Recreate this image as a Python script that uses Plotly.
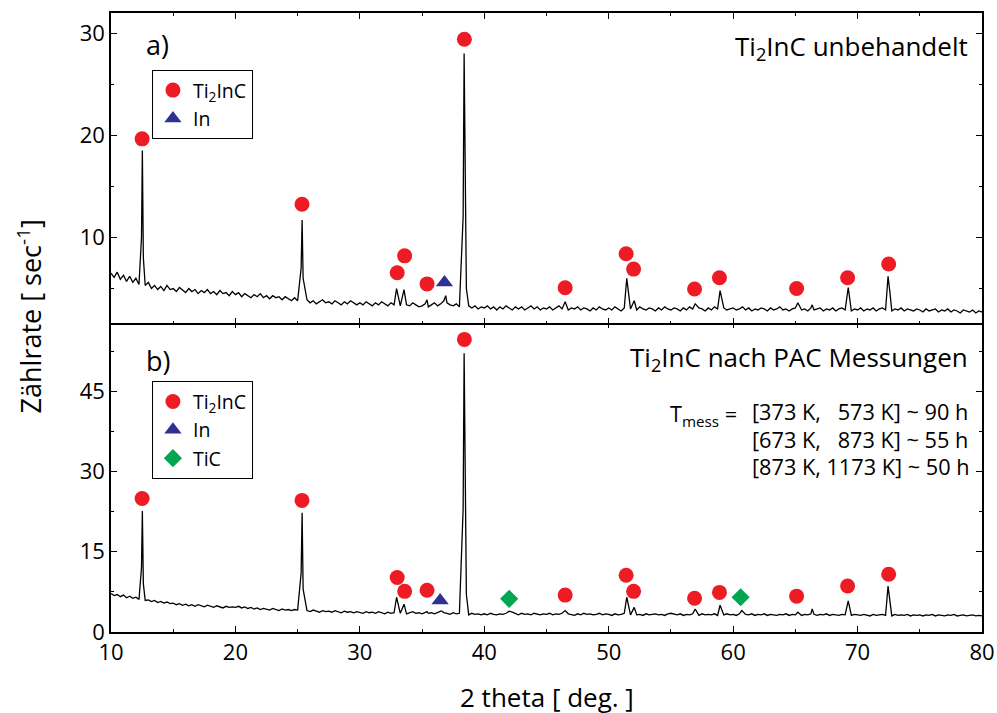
import numpy as np
import plotly.graph_objects as go

# ---------------- data ----------------
# background of the measured patterns, sampled every 0.25 deg from 10 to 80
two_theta_grid = np.arange(10.0, 80.001, 0.25)

bg_a = [
    6.5, 6.1, 6.6, 5.9, 6.3, 5.7, 6.2, 5.6, 6.0, 5.4, 5.9, 5.3, 5.6, 5.0, 5.3, 4.9, 5.2, 4.8, 5.3, 4.9,
    5.0, 4.7, 5.1, 4.8, 4.6, 5.0, 4.7, 4.9, 4.5, 4.8, 4.6, 4.9, 4.5, 4.7, 4.4, 4.8, 4.5, 4.6, 4.3, 4.7,
    4.4, 4.6, 4.2, 4.5, 4.3, 4.1, 4.4, 4.2, 4.5, 4.1, 4.3, 4.0, 4.3, 4.1, 4.2, 3.9, 4.2, 4.0, 3.8, 4.1,
    3.8, 3.9, 3.7, 3.9, 3.6, 3.8, 3.5, 3.7, 3.9, 3.6, 3.7, 3.5, 3.8, 3.6, 3.4, 3.7, 3.5, 3.8, 3.6, 3.4,
    3.6, 3.4, 3.7, 3.5, 3.3, 3.6, 3.4, 3.7, 3.5, 3.3, 3.6, 3.4, 3.5, 3.3, 3.6, 3.4, 3.3, 3.6, 3.4, 3.2,
    3.3, 3.5, 3.2, 3.4, 3.6, 3.3, 3.5, 3.8, 3.6, 3.4, 3.3, 3.5, 3.2, 3.4, 3.6, 3.3, 3.1, 3.3, 3.0, 3.2,
    3.1, 3.3, 3.0, 3.2, 2.9, 3.2, 3.0, 3.3, 3.1, 2.9, 3.2, 3.0, 3.2, 2.9, 3.1, 3.3, 3.0, 3.2, 2.9, 3.1,
    3.0, 3.2, 2.9, 3.1, 3.3, 3.0, 3.2, 2.9, 3.1, 3.0, 3.2, 2.9, 3.1, 3.0, 2.8, 3.1, 2.9, 3.2, 3.0, 2.9,
    3.1, 2.9, 3.2, 3.0, 2.8, 3.1, 3.2, 3.0, 3.1, 2.9, 3.2, 3.0, 2.9, 3.1, 3.0, 2.8, 3.1, 2.9, 3.2, 3.0,
    2.9, 3.1, 3.0, 2.8, 3.1, 2.9, 3.2, 3.0, 2.9, 3.1, 3.0, 2.8, 3.1, 2.9, 3.2, 3.0, 2.9, 3.1, 2.9, 3.0,
    3.1, 2.9, 3.0, 3.2, 2.9, 3.1, 2.8, 3.0, 2.9, 3.1, 3.0, 2.8, 3.1, 2.9, 3.0, 3.2, 2.9, 3.0, 2.8, 3.0,
    3.1, 3.2, 2.9, 3.0, 2.8, 3.1, 2.9, 3.0, 3.1, 2.8, 3.0, 2.9, 3.1, 2.8, 3.0, 3.1, 2.9, 3.0, 2.8, 3.0,
    2.9, 3.1, 2.8, 3.0, 2.9, 3.1, 2.8, 3.0, 3.1, 2.9, 3.0, 2.8, 3.0, 2.9, 3.1, 2.8, 3.0, 2.9, 2.8, 3.0,
    2.9, 2.7, 3.0, 2.8, 2.9, 3.0, 2.7, 2.9, 2.8, 3.0, 2.7, 2.9, 2.8, 2.6, 2.9, 2.8, 2.7, 2.9, 2.6, 2.8,
    2.7,
]

bg_b = [
    7.2, 6.8, 7.0, 6.6, 6.9, 6.4, 6.7, 6.3, 6.5, 6.1, 6.4, 5.9, 6.0, 5.7, 5.9, 5.5, 5.7, 5.4, 5.6, 5.3,
    5.4, 5.1, 5.3, 5.0, 5.2, 4.9, 5.1, 4.8, 5.1, 4.9, 4.7, 5.0, 4.8, 4.6, 4.9, 4.7, 4.5, 4.8, 4.6, 4.7,
    4.6, 4.8, 4.5, 4.7, 4.4, 4.6, 4.3, 4.5, 4.2, 4.4, 4.3, 4.1, 4.4, 4.2, 4.0, 4.3, 4.1, 4.2, 4.0, 4.2,
    4.1, 3.9, 4.2, 4.0, 3.8, 4.1, 3.9, 3.7, 4.0, 3.8, 3.9, 3.7, 4.0, 3.8, 3.6, 3.9, 3.7, 3.8, 3.6, 3.8,
    3.7, 3.5, 3.8, 3.6, 3.7, 3.5, 3.8, 3.6, 3.4, 3.7, 3.5, 3.6, 3.8, 3.5, 3.7, 3.4, 3.6, 3.8, 3.5, 3.6,
    3.4, 3.7, 3.5, 3.6, 3.4, 3.7, 3.9, 3.6, 3.5, 3.3, 3.6, 3.4, 3.5, 3.6, 3.4, 3.2, 3.5, 3.3, 3.4, 3.2,
    3.4, 3.2, 3.5, 3.3, 3.2, 3.4, 3.3, 3.5, 3.8, 3.7, 3.4, 3.2, 3.5, 3.3, 3.4, 3.2, 3.5, 3.3, 3.2, 3.4,
    3.3, 3.5, 3.2, 3.4, 3.3, 3.5, 3.2, 3.4, 3.3, 3.1, 3.4, 3.2, 3.5, 3.3, 3.4, 3.2, 3.3, 3.5, 3.2, 3.4,
    3.3, 3.1, 3.4, 3.2, 3.3, 3.5, 3.3, 3.2, 3.4, 3.2, 3.3, 3.1, 3.4, 3.2, 3.3, 3.4, 3.2, 3.3, 3.1, 3.4,
    3.5, 3.3, 3.2, 3.4, 3.1, 3.3, 3.2, 3.4, 3.3, 3.1, 3.4, 3.2, 3.3, 3.2, 3.4, 3.1, 3.3, 3.2, 3.4, 3.2,
    3.3, 3.1, 3.4, 3.6, 3.3, 3.2, 3.4, 3.1, 3.3, 3.2, 3.4, 3.1, 3.3, 3.2, 3.1, 3.3, 3.2, 3.4, 3.1, 3.3,
    3.2, 3.4, 3.1, 3.3, 3.2, 3.4, 3.3, 3.1, 3.3, 3.2, 3.4, 3.1, 3.3, 3.2, 3.1, 3.3, 3.2, 3.4, 3.1, 3.3,
    3.2, 3.1, 3.3, 3.2, 3.0, 3.3, 3.1, 3.2, 3.3, 3.1, 3.2, 3.0, 3.3, 3.1, 3.2, 3.1, 3.3, 3.0, 3.2, 3.1,
    3.2, 3.0, 3.2, 3.1, 3.3, 3.0, 3.2, 3.1, 3.0, 3.2, 3.1, 3.3, 3.0, 3.1, 3.2, 3.0, 3.1, 3.2, 3.0, 3.1,
    3.0,
]

# reflection points (position, intensity)
peak_a_x = [12.45, 12.52, 12.60, 25.28, 25.36, 25.44, 32.95, 33.55, 35.40, 36.90,
            38.30, 38.38, 38.47, 38.56, 46.50, 51.45, 52.05, 56.95, 58.95, 65.20,
            66.35, 69.25, 72.45, 72.62]
peak_a_y = [10.0, 18.5, 8.0, 7.0, 11.7, 6.0, 5.0, 4.9, 3.9, 4.3,
            12.0, 28.0, 14.0, 5.0, 3.7, 6.0, 3.8, 3.5, 4.8, 3.6,
            3.4, 5.1, 6.2, 4.4]

peak_b_x = [12.45, 12.52, 12.60, 25.28, 25.36, 25.44, 32.95, 33.55, 35.40, 36.60,
            38.30, 38.38, 38.47, 38.56, 42.00, 46.50, 51.45, 52.05, 56.95, 58.95,
            60.70, 65.20, 66.35, 69.25, 72.45, 72.62]
peak_b_y = [12.0, 22.6, 9.0, 11.0, 22.3, 8.0, 6.5, 5.2, 3.8, 3.9,
            23.0, 52.1, 25.0, 7.0, 3.9, 4.0, 6.5, 4.6, 4.3, 5.0,
            4.0, 3.7, 4.3, 5.8, 8.6, 5.4]

# phase markers, panel a
a_ti2inc_x = [12.5, 25.35, 33.0, 33.6, 35.4, 38.4, 46.5, 51.4, 52.0, 56.9, 58.9, 65.1, 69.2, 72.5]
a_ti2inc_y = [19.65, 13.25, 6.55, 8.2, 5.45, 29.4, 5.07, 8.4, 6.9, 4.95, 6.06, 5.0, 6.06, 7.4]
a_in_x = [36.8]
a_in_y = [5.6]

# phase markers, panel b
b_ti2inc_x = [12.5, 25.35, 33.0, 33.6, 35.4, 38.4, 46.5, 51.4, 52.0, 56.9, 58.9, 65.1, 69.2, 72.5]
b_ti2inc_y = [24.95, 24.6, 10.2, 7.6, 7.8, 54.7, 6.9, 10.6, 7.6, 6.3, 7.4, 6.7, 8.6, 10.8]
b_in_x = [36.45]
b_in_y = [5.9]
b_tic_x = [42.0, 60.6]
b_tic_y = [6.2, 6.5]

x_ticks = [10, 20, 30, 40, 50, 60, 70, 80]
ya_ticks = [10, 20, 30]
yb_ticks = [0, 15, 30, 45]

t_mess_lines = ["[373 K,\u00a0\u00a0\u00a0573 K] ~ 90 h",
                "[673 K,\u00a0\u00a0\u00a0873 K] ~ 55 h",
                "[873 K, 1173 K] ~ 50 h"]


def merge(bx, by, px, py):
    pts = [(x, y) for x, y in zip(bx, by) if min(abs(x - p) for p in px) > 0.07]
    pts += list(zip(px, py))
    pts.sort()
    return [p[0] for p in pts], [p[1] for p in pts]


xa, ya = merge(list(two_theta_grid), bg_a, peak_a_x, peak_a_y)
xb, yb = merge(list(two_theta_grid), bg_b, peak_b_x, peak_b_y)

RED = "#ED1C24"
BLUE = "#2E3192"
GREEN = "#00A651"
FONT = "Open Sans"

fig = go.Figure()

# panel b (bottom) : xaxis / yaxis
fig.add_trace(go.Scatter(x=xb, y=yb, mode="lines", line=dict(color="black", width=1.3),
                         xaxis="x", yaxis="y", showlegend=False, hoverinfo="skip"))
# panel a (top) : xaxis2 / yaxis2
fig.add_trace(go.Scatter(x=xa, y=ya, mode="lines", line=dict(color="black", width=1.3),
                         xaxis="x2", yaxis="y2", showlegend=False, hoverinfo="skip"))

fig.add_trace(go.Scatter(x=a_ti2inc_x, y=a_ti2inc_y, mode="markers", name="Ti<sub>2</sub>InC",
                         marker=dict(symbol="circle", size=15, color=RED),
                         xaxis="x2", yaxis="y2", legend="legend"))
fig.add_trace(go.Scatter(x=a_in_x, y=a_in_y, mode="markers", name="In",
                         marker=dict(symbol="triangle-up", size=15, color=BLUE),
                         xaxis="x2", yaxis="y2", legend="legend"))

fig.add_trace(go.Scatter(x=b_ti2inc_x, y=b_ti2inc_y, mode="markers", name="Ti<sub>2</sub>InC",
                         marker=dict(symbol="circle", size=15, color=RED),
                         xaxis="x", yaxis="y", legend="legend2"))
fig.add_trace(go.Scatter(x=b_in_x, y=b_in_y, mode="markers", name="In",
                         marker=dict(symbol="triangle-up", size=15, color=BLUE),
                         xaxis="x", yaxis="y", legend="legend2"))
fig.add_trace(go.Scatter(x=b_tic_x, y=b_tic_y, mode="markers", name="TiC",
                         marker=dict(symbol="diamond", size=14, color=GREEN),
                         xaxis="x", yaxis="y", legend="legend2"))

axis_common = dict(showline=True, linecolor="black", linewidth=1.5, mirror="ticks",
                   ticks="inside", ticklen=6, tickwidth=1.3, tickcolor="black",
                   showgrid=False, zeroline=False, automargin=False,
                   tickfont=dict(family=FONT, size=22, color="black"))

half = 0.75 / 619.0

fig.update_layout(
    width=997, height=713,
    margin=dict(l=111, r=15, t=13, b=81, autoexpand=False),
    paper_bgcolor="white", plot_bgcolor="white",
    font=dict(family=FONT, color="black"),
    xaxis=dict(domain=[0, 1], anchor="y", range=[10, 80], tickvals=x_ticks,
               minor=dict(dtick=5, ticks="inside", ticklen=3, tickcolor="black"),
               **axis_common),
    yaxis=dict(domain=[0, 0.5 + half], anchor="x", range=[0, 58.0], tickvals=yb_ticks,
               minor=dict(tick0=0, dtick=7.5, ticks="inside", ticklen=3, tickcolor="black"),
               **axis_common),
    xaxis2=dict(domain=[0, 1], anchor="y2", range=[10, 80], tickvals=x_ticks,
                showticklabels=False, matches="x",
                minor=dict(dtick=5, ticks="inside", ticklen=3, tickcolor="black"),
                **axis_common),
    yaxis2=dict(domain=[0.5 - half, 1], anchor="x2", range=[1.6, 31.97], tickvals=ya_ticks,
                minor=dict(tick0=0, dtick=5, ticks="inside", ticklen=3, tickcolor="black"),
                **axis_common),
    legend=dict(x=0.047, y=0.908, xanchor="left", yanchor="top",
                bordercolor="black", borderwidth=1, bgcolor="white",
                font=dict(family=FONT, size=19.5, color="black"), tracegroupgap=0),
    legend2=dict(x=0.047, y=0.405, xanchor="left", yanchor="top",
                 bordercolor="black", borderwidth=1, bgcolor="white",
                 font=dict(family=FONT, size=19.5, color="black"), tracegroupgap=0),
)

ann = []
ann.append(dict(text="a)", x=12.65, y=28.85, xref="x2", yref="y2", xanchor="left", yanchor="middle",
                showarrow=False, font=dict(size=27)))
ann.append(dict(text="b)", x=12.65, y=50.8, xref="x", yref="y", xanchor="left", yanchor="middle",
                showarrow=False, font=dict(size=27)))
ann.append(dict(text="Ti<sub>2</sub>InC unbehandelt", x=79.0, y=28.6, xref="x2", yref="y2",
                xanchor="right", yanchor="middle", showarrow=False, font=dict(size=26)))
ann.append(dict(text="Ti<sub>2</sub>InC nach PAC Messungen", x=79.0, y=51.3, xref="x", yref="y",
                xanchor="right", yanchor="middle", showarrow=False, font=dict(size=26)))
ann.append(dict(text="T<sub>mess</sub> =", x=60.45, y=40.6, xref="x", yref="y",
                xanchor="right", yanchor="middle", showarrow=False, font=dict(size=21.7)))
for line, yv in zip(t_mess_lines, [41.2, 35.9, 30.9]):
    ann.append(dict(text=line, x=61.35, y=yv, xref="x", yref="y", xanchor="left", yanchor="middle",
                    showarrow=False, font=dict(size=21.7)))
ann.append(dict(text="Zählrate [ sec<sup>-1</sup>]", x=-0.094, y=0.51, xref="paper", yref="paper",
                xanchor="center", yanchor="middle", textangle=-90, showarrow=False,
                font=dict(size=27)))
ann.append(dict(text="2 theta [ deg. ]", x=0.5006, y=-0.105, xref="paper", yref="paper",
                xanchor="center", yanchor="middle", showarrow=False, font=dict(size=26)))
fig.update_layout(annotations=ann)

fig.write_html("out.html",
               config={"displayModeBar": False},
               post_script="document.body.style.margin='0px';document.body.style.overflow='hidden';")
